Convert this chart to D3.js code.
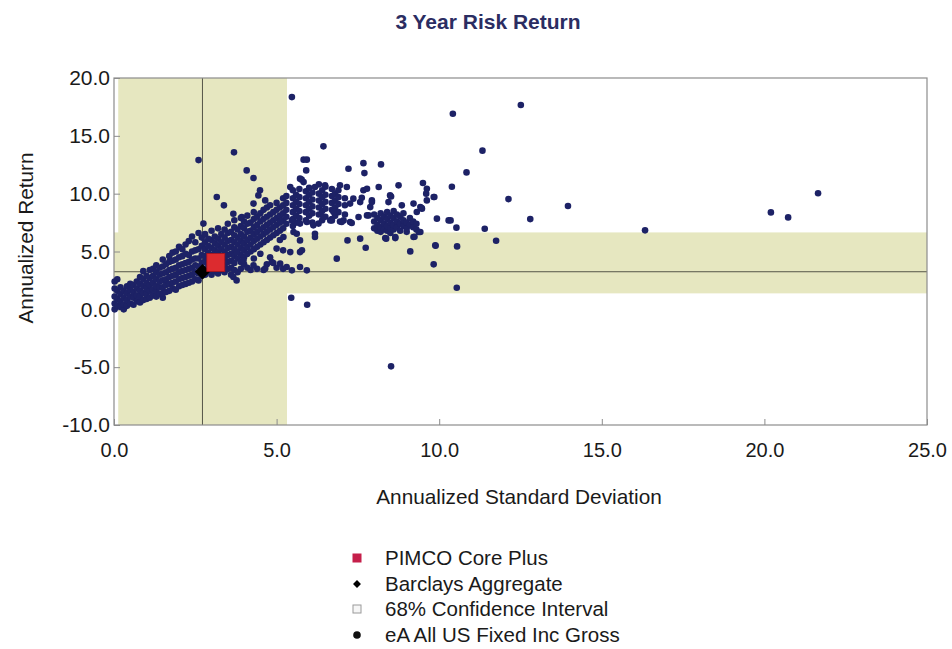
<!DOCTYPE html>
<html><head><meta charset="utf-8">
<script src="https://cdn.jsdelivr.net/npm/d3@7"></script>
<style>body{margin:0;background:#fff} svg{display:block;font-family:"Liberation Sans",Arial,sans-serif}</style>
</head><body><svg id="c" width="952" height="649"></svg>
<script>
const chartTitle = "3 Year Risk Return";
const xAxisTitle = "Annualized Standard Deviation";
const yAxisTitle = "Annualized Return";
const xTicks = [0, 5, 10, 15, 20, 25];
const yTicks = [-10, -5, 0, 5, 10, 15, 20];
const xDomain = [0, 25];
const yDomain = [-10, 20];
const confidenceX = [0.13, 5.32];
const confidenceY = [1.38, 6.65];
const benchmark = { name: "Barclays Aggregate", x: 2.72, y: 3.25 };
const manager = { name: "PIMCO Core Plus", x: 3.13, y: 4.05 };

// eA All US Fixed Inc Gross universe: [std dev, [returns...]] read column by column
const universeColumns = [
[0.02,[0.0,0.5,1.1,1.8,2.4]],[0.1,[0.3,0.9,1.6,2.6]],[0.2,[0.2,0.7,1.3,1.9]],[0.3,[0.0,0.4,1.0,1.6]],
[0.4,[0.3,0.8,1.4,2.0]],[0.5,[0.5,1.1,1.7,2.2]],[0.6,[0.4,1.0,1.5,2.1]],[0.7,[0.7,1.2,1.8,2.4]],
[0.8,[0.6,1.1,1.6,2.2,2.8]],[0.9,[0.8,1.4,2.0,2.6,3.3]],[1.0,[0.9,1.3,1.8,2.3,2.9]],[1.1,[1.0,1.6,2.1,2.7,3.4]],
[1.2,[1.2,1.7,2.3,2.9,3.5]],[1.3,[1.1,1.6,2.0,2.6,3.2,3.8]],[1.4,[1.3,1.9,2.4,3.0,3.6]],[1.5,[1.0,1.4,1.9,2.5,3.1,3.7,4.3]],
[1.6,[1.5,2.1,2.6,3.2,3.9]],[1.7,[1.6,2.2,2.8,3.4,4.1,4.6]],[1.8,[1.8,2.3,2.9,3.5,4.2,4.9]],[1.9,[1.7,2.4,3.0,3.6,4.3,5.0]],
[2.0,[2.0,2.6,3.2,3.8,4.5,5.4]],[2.1,[2.1,2.7,3.3,3.9,4.6,5.2]],[2.2,[2.2,2.8,3.4,4.0,4.8,5.6]],[2.3,[2.3,2.9,3.5,4.1,4.7,5.9]],
[2.4,[2.4,3.0,3.6,4.3,5.0,6.3]],[2.5,[2.6,3.2,3.8,4.4,5.1,5.8]],[2.6,[2.5,3.1,3.7,4.4,5.2,6.6,12.9]],[2.7,[2.9,3.4,4.0,4.7,5.5,6.2]],
[2.8,[3.0,3.5,4.1,4.6,5.2,5.8,6.5]],[2.9,[3.2,3.7,4.3,4.9,5.5,6.1]],[3.0,[3.0,3.6,4.2,4.7,5.3,6.0,6.8]],[3.1,[3.3,3.9,4.5,5.1,5.7,6.3]],
[3.2,[3.1,3.7,4.3,4.9,5.5,6.1,7.0]],[3.3,[3.4,4.0,4.6,5.2,5.8,6.5]],[3.4,[3.2,3.8,4.4,5.0,5.6,6.2,6.9]],[3.5,[3.5,4.1,4.7,5.3,5.9,6.6,7.4]],
[3.6,[3.0,3.6,4.2,4.8,5.4,6.0,6.7]],[3.7,[3.4,4.0,4.6,5.2,5.8,6.4,7.1,7.7]],[3.8,[3.2,4.4,5.0,5.6,6.2,6.9]],[3.9,[3.5,4.1,4.7,5.3,5.9,6.5,7.2,7.9]],
[4.0,[3.9,4.5,5.1,5.7,6.3,7.0,7.6]],[4.1,[3.6,4.8,5.4,6.0,6.7,7.4,8.1]],[4.2,[3.4,5.0,5.6,6.2,6.8,7.5]],[4.3,[4.4,5.2,5.9,6.5,7.1,7.8,8.4]],
[4.4,[3.5,5.4,6.1,6.7,7.3,8.0]],[4.5,[4.8,5.6,6.3,6.9,7.6,8.3]],[4.6,[3.4,5.8,6.5,7.1,7.8,8.6]],[4.7,[3.9,6.0,6.7,7.3,8.0,8.8]],
[4.8,[4.5,6.2,6.9,7.5,8.2,9.0]],[4.9,[4.0,6.4,7.1,7.7,8.4]],[5.0,[3.6,6.6,7.3,7.9,8.6,9.2]],[5.1,[6.0,6.8,7.5,8.1,8.8]],
[5.2,[3.5,5.1,7.0,7.7,8.3,9.0,9.6]],
[5.3,[7.4,8.0,8.6,9.2,9.8]],[5.5,[7.2,7.8,8.4,9.0,9.6,10.3]],[5.6,[7.5,8.1,8.7,9.3,9.9]],
[5.7,[7.9,8.5,9.1,9.7,10.4]],[5.9,[7.7,8.4,9.0,9.6,10.2]],[6.0,[8.1,8.7,9.3,9.9,10.5]],
[6.1,[7.5,8.3,8.9,9.5,10.1]],[6.3,[8.2,8.8,9.4,10.0,10.8]],[6.4,[7.7,8.5,9.1,9.7,10.3]],
[6.5,[8.0,8.7,9.3,9.9,10.6]],[6.7,[7.8,8.6,9.2,9.8,10.4]],[6.8,[8.1,8.8,9.4,10.0]],
[6.9,[8.4,9.1,9.7,10.3]],[7.1,[8.2,9.0,9.6]],
[8.0,[7.0,7.6,8.2]],[8.1,[6.8,7.3,7.9]],[8.2,[6.7,7.1,7.7,8.3]],[8.3,[6.9,7.4,8.0]],
[8.4,[6.8,7.2,7.8,8.4]],[8.5,[6.6,7.0,7.5,8.1]],[8.6,[6.9,7.3,7.9,8.5]],[8.7,[7.1,7.6,8.2]],
[8.8,[6.8,7.4,8.0]],[8.9,[7.2,7.7,8.3]],[9.0,[6.7,7.0,7.5]],[9.1,[7.3,7.9]],[9.2,[7.1,7.6]],[9.3,[6.9,7.4]]
];

// scattered funds outside the dense band: [std dev, return]
const universeScattered = [
[3.16,9.71],[3.38,8.99],[3.67,8.27],[3.93,7.98],[3.69,13.57],[4.08,12.01],[4.29,11.35],[4.49,10.29],[4.44,9.85],
[4.65,9.42],[4.29,9.14],[2.75,7.41],[3.67,2.8],[3.77,2.5],[3.77,4.95],[3.98,4.24],[4.29,3.8],[4.65,3.52],[4.85,4.09],
[5.0,5.25],[5.11,3.95],[5.31,3.66],[5.47,3.37],[5.72,3.66],[5.93,3.37],[5.72,4.95],[5.42,4.95],[5.21,6.25],[5.11,7.55],
[5.52,6.68],[5.72,7.41],[6.18,6.54],[6.29,7.41],[5.62,6.54],[5.72,5.96],[5.47,7.69],[5.93,7.55],[6.13,7.26],[6.44,7.98],
[5.78,5.1],[6.65,7.69],[6.18,6.25],[5.45,1.0],[5.94,0.4],
[5.47,18.35],[6.44,14.09],[5.83,12.94],[5.93,12.94],[5.91,12.01],[7.21,12.16],[7.67,12.64],[7.7,11.78],[8.21,12.53],
[5.77,11.21],[5.83,11.0],[5.42,10.57],[5.72,11.3],[6.18,10.57],[6.49,10.72],
[8.75,10.72],[9.5,10.92],[9.62,10.43],[9.83,9.71],[9.62,9.42],[9.47,8.7],[9.93,7.84],[10.29,7.69],[8.14,10.57],
[7.67,10.29],[7.78,10.43],[7.36,9.57],[7.16,10.57],[6.95,10.72],[7.26,9.14],[7.57,9.27],[7.88,8.84],[7.93,9.42],
[8.49,9.85],[8.44,9.27],[8.85,8.99],[9.21,9.14],[9.31,8.41],[7.06,7.69],[7.26,7.55],[6.95,7.6],[6.70,7.69],[6.75,8.41],
[7.52,7.98],[7.78,8.12],[7.18,5.96],[7.57,6.11],[7.74,5.33],[6.85,4.38],[8.34,6.16],[8.65,6.16],[9.11,5.01],[9.21,6.25],
[9.37,6.68],[9.88,5.53],[9.83,3.89],[7.0,7.55],[7.31,7.46],[7.83,8.12],[7.93,9.27],[7.62,9.65],[8.52,9.76],[9.42,8.84],
[9.6,10.0],[9.85,9.71],[9.46,8.76],[9.42,6.68],[9.24,6.28],[8.37,6.11],[8.65,6.25],
[10.42,16.91],[12.51,17.66],[11.33,13.72],[10.84,11.84],[10.39,10.6],[12.13,9.53],[13.96,8.93],[12.8,7.8],[16.33,6.83],
[20.2,8.38],[20.73,7.95],[21.65,10.03],[10.35,7.69],[10.53,7.06],[11.4,6.97],[11.75,5.93],[9.89,5.5],[10.55,5.44],
[10.54,1.87],[8.52,-4.93]
];

const legendLabels = ["PIMCO Core Plus", "Barclays Aggregate", "68% Confidence Interval", "eA All US Fixed Inc Gross"];

const svg = d3.select("#c");
const x = d3.scaleLinear().domain(xDomain).range([114, 927]);
const y = d3.scaleLinear().domain(yDomain).range([425, 78]);
const fmt = d => d.toFixed(1);
const bandColor = "#e6e7c0";
const dotColor = "#1d2266";

// title
svg.append("text").attr("x", 488).attr("y", 29).attr("text-anchor", "middle")
  .attr("font-size", 21).attr("font-weight", "bold").attr("fill", "#2b2d62").text(chartTitle);

// confidence bands
svg.append("rect").attr("x", x(confidenceX[0])).attr("y", y(yDomain[1]))
  .attr("width", x(confidenceX[1]) - x(confidenceX[0])).attr("height", y(yDomain[0]) - y(yDomain[1]))
  .attr("fill", bandColor);
svg.append("rect").attr("x", x(xDomain[0])).attr("y", y(confidenceY[1]))
  .attr("width", x(xDomain[1]) - x(xDomain[0])).attr("height", y(confidenceY[0]) - y(confidenceY[1]))
  .attr("fill", bandColor);

// benchmark reference lines
svg.append("line").attr("x1", x(benchmark.x)).attr("x2", x(benchmark.x))
  .attr("y1", y(yDomain[0])).attr("y2", y(yDomain[1])).attr("stroke", "#555548").attr("stroke-width", 1);
svg.append("line").attr("x1", x(xDomain[0])).attr("x2", x(xDomain[1]))
  .attr("y1", y(benchmark.y)).attr("y2", y(benchmark.y)).attr("stroke", "#555548").attr("stroke-width", 1);

// axes
const xAxis = svg.append("g").attr("transform", `translate(0,${y(yDomain[0])})`)
  .call(d3.axisBottom(x).tickValues(xTicks).tickFormat(fmt).tickSizeInner(-6).tickSizeOuter(0).tickPadding(18));
const yAxis = svg.append("g").attr("transform", `translate(${x(xDomain[0])},0)`)
  .call(d3.axisLeft(y).tickValues(yTicks).tickFormat(fmt).tickSizeInner(-6).tickSizeOuter(0).tickPadding(4));
[xAxis, yAxis].forEach(g => {
  g.select(".domain").remove();
  g.selectAll(".tick line").attr("stroke", "#8c8c8c");
  g.selectAll(".tick text").attr("fill", "#1a1a1a").attr("font-family", '"Liberation Sans",Arial,sans-serif');
});
xAxis.selectAll(".tick text").attr("font-size", 20);
yAxis.selectAll(".tick text").attr("font-size", 21);

// frame
svg.append("rect").attr("x", x(xDomain[0])).attr("y", y(yDomain[1]))
  .attr("width", x(xDomain[1]) - x(xDomain[0])).attr("height", y(yDomain[0]) - y(yDomain[1]))
  .attr("fill", "none").attr("stroke", "#8c8c8c").attr("stroke-width", 1.2);

// universe points
const universe = universeColumns.flatMap(([sd, rets]) => rets.map(r => [sd, r])).concat(universeScattered);
svg.append("g").selectAll("circle").data(universe).join("circle")
  .attr("cx", d => x(d[0])).attr("cy", d => y(d[1])).attr("r", 3.3).attr("fill", dotColor);

// benchmark diamond
svg.append("path").attr("transform", `translate(${x(benchmark.x)},${y(benchmark.y)})`)
  .attr("d", d3.symbol(d3.symbolDiamond2, 150)()).attr("fill", "#000");
// manager square
svg.append("rect").attr("x", x(manager.x) - 9).attr("y", y(manager.y) - 9)
  .attr("width", 18).attr("height", 18).attr("fill", "#dc2b2f").attr("stroke", "#a8141c").attr("stroke-width", 0.8);

// axis titles
svg.append("text").attr("x", 519).attr("y", 504).attr("text-anchor", "middle")
  .attr("font-size", 20.8).attr("fill", "#1a1a1a").text(xAxisTitle);
svg.append("text").attr("transform", "translate(33,238) rotate(-90)").attr("text-anchor", "middle")
  .attr("font-size", 20.8).attr("fill", "#1a1a1a").text(yAxisTitle);

// legend
const legendY = [558, 584, 609, 635];
const lg = svg.append("g");
legendLabels.forEach((lab, i) => {
  const cy = legendY[i];
  if (i === 0) lg.append("rect").attr("x", 352.5).attr("y", cy - 4.5).attr("width", 9).attr("height", 9).attr("fill", "#c51f4a");
  if (i === 1) lg.append("path").attr("transform", `translate(357,${cy})`).attr("d", d3.symbol(d3.symbolDiamond2, 40)()).attr("fill", "#000");
  if (i === 2) lg.append("rect").attr("x", 353).attr("y", cy - 4).attr("width", 8).attr("height", 8).attr("fill", "#f6f6f6").attr("stroke", "#9a9a9a");
  if (i === 3) lg.append("circle").attr("cx", 357).attr("cy", cy).attr("r", 3.8).attr("fill", "#111");
  lg.append("text").attr("x", 385).attr("y", cy).attr("dy", "0.36em").attr("font-size", 20.5).attr("fill", "#1a1a1a").text(lab);
});
</script></body></html>
